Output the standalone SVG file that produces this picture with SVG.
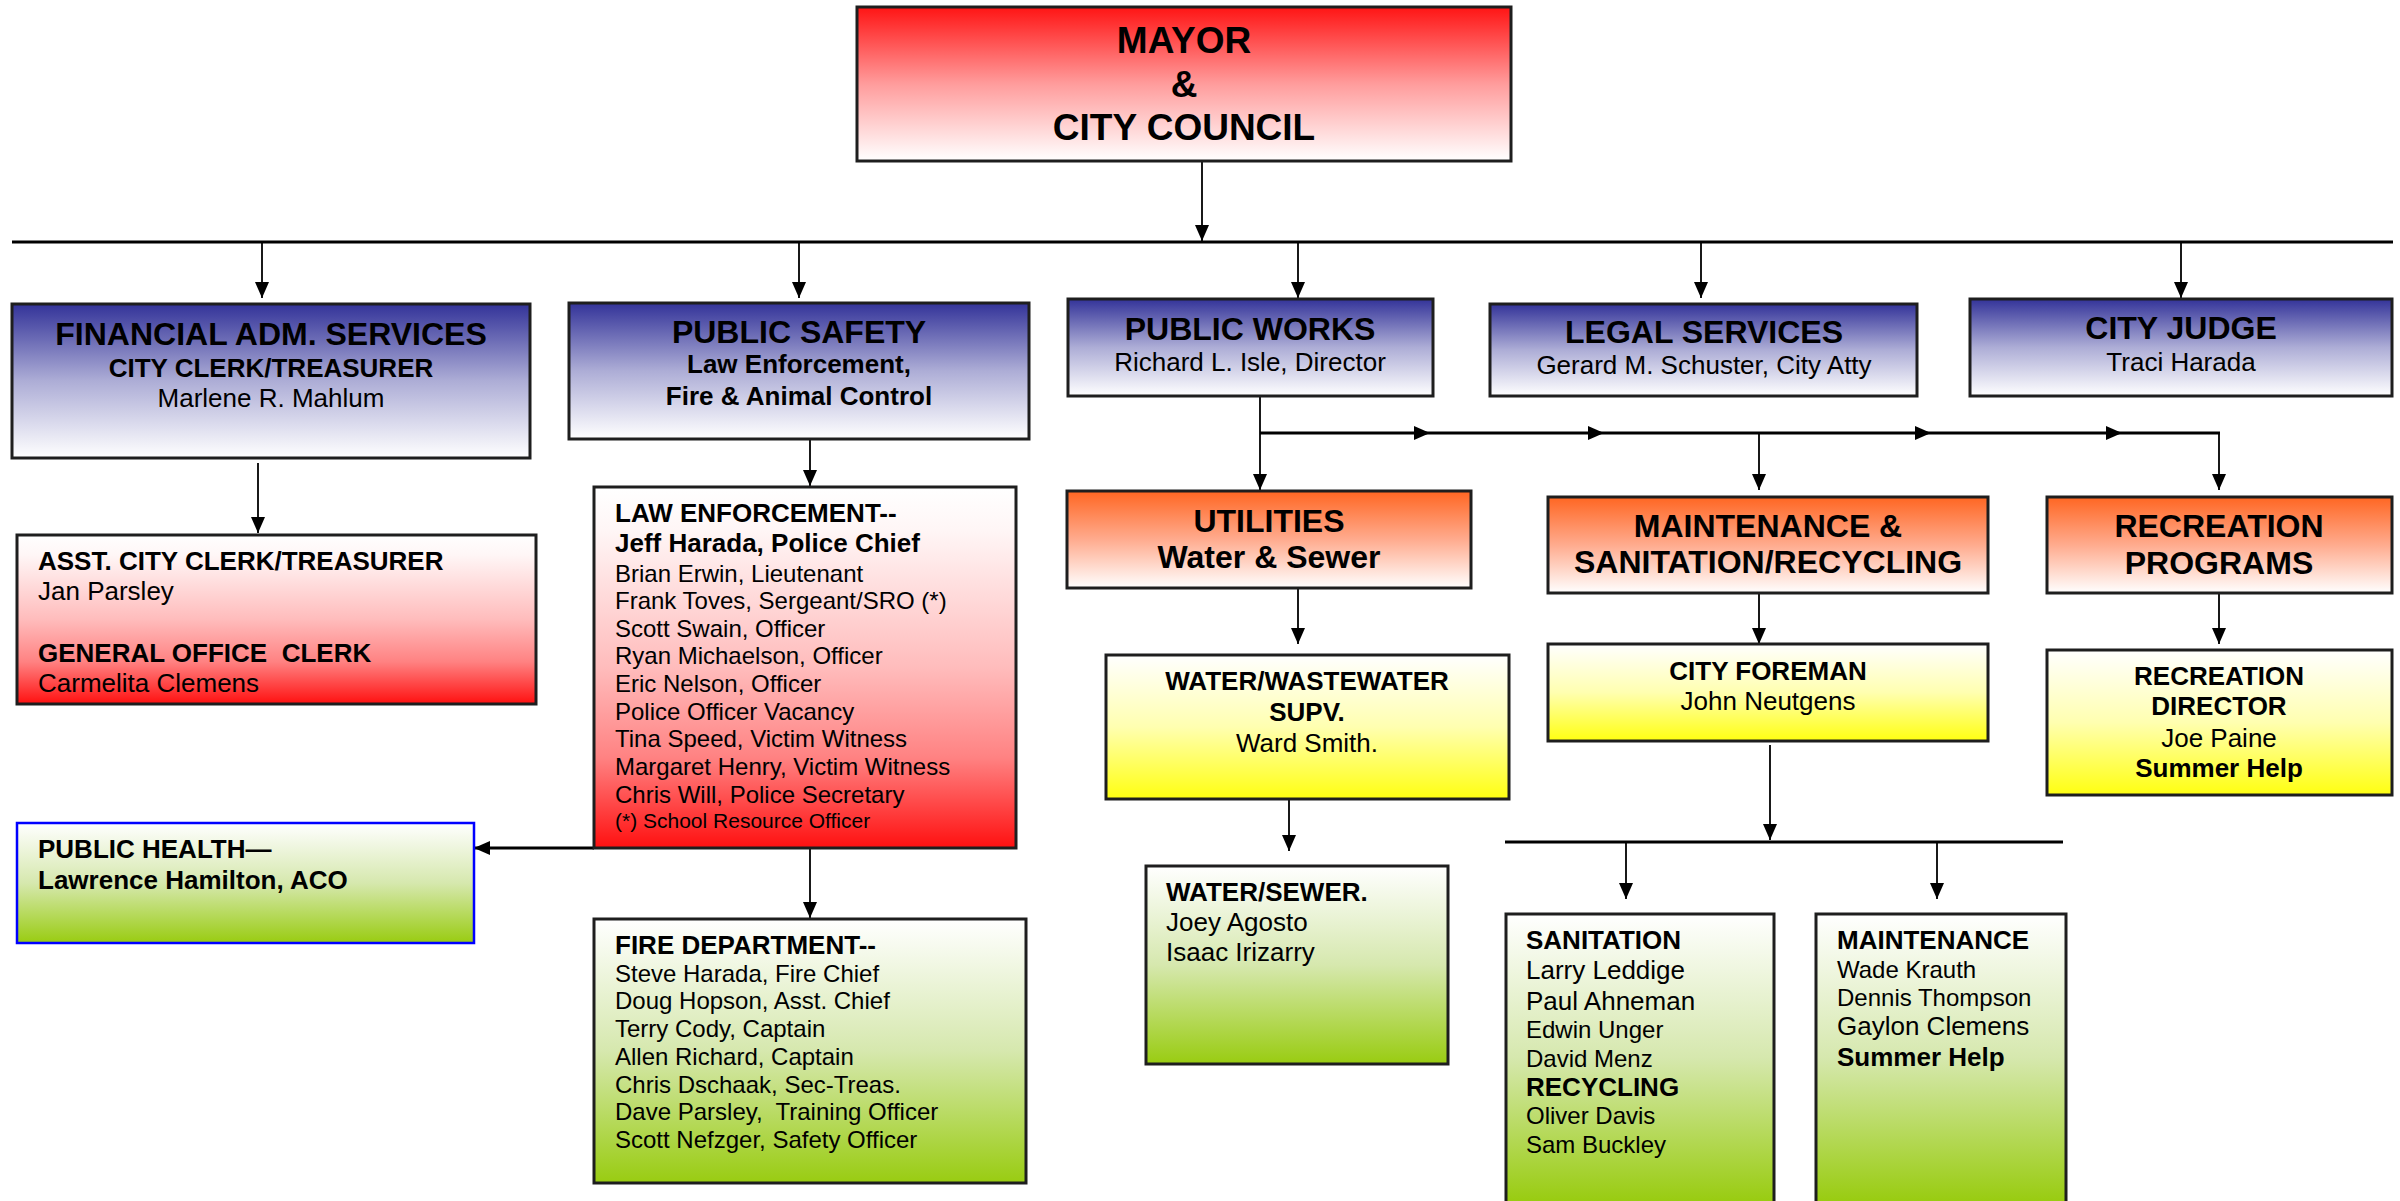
<svg xmlns="http://www.w3.org/2000/svg" width="2400" height="1201" viewBox="0 0 2400 1201">
<style>
.box{stroke:#1e1e1e;stroke-width:3}
.ph{stroke:#0000ff;stroke-width:2.5}
text{font-family:"Liberation Sans",Arial,sans-serif;fill:#000;white-space:pre}
.h37{font-size:37px;font-weight:bold}
.h32{font-size:32px;font-weight:bold}
.b26{font-size:26px;font-weight:bold}
.r26{font-size:26px}
.r24{font-size:24px}
.r21{font-size:21px}
.c{text-anchor:middle}
.ln{stroke:#000;stroke-width:1.8;fill:none}
.bus{stroke:#000;stroke-width:3.2;fill:none}
</style>
<defs>
<linearGradient id="gRed" x1="0" y1="0" x2="0" y2="1"><stop offset="0" stop-color="#ff1414"/><stop offset="0.5" stop-color="#ff9c9c"/><stop offset="0.95" stop-color="#fff6f6"/><stop offset="1" stop-color="#ffffff"/></linearGradient>
<linearGradient id="gBlue" x1="0" y1="0" x2="0" y2="1"><stop offset="0" stop-color="#333399"/><stop offset="0.5" stop-color="#adadd6"/><stop offset="1" stop-color="#ffffff"/></linearGradient>
<linearGradient id="gOrange" x1="0" y1="0" x2="0" y2="1"><stop offset="0" stop-color="#ff6622"/><stop offset="0.5" stop-color="#ffab8e"/><stop offset="1" stop-color="#ffffff"/></linearGradient>
<linearGradient id="gRedUp" x1="0" y1="0" x2="0" y2="1"><stop offset="0" stop-color="#ffffff"/><stop offset="0.12" stop-color="#fff6f6"/><stop offset="0.5" stop-color="#ffbcbc"/><stop offset="0.75" stop-color="#ff8282"/><stop offset="1" stop-color="#ff1010"/></linearGradient>
<linearGradient id="gYellow" x1="0" y1="0" x2="0" y2="1"><stop offset="0" stop-color="#ffffff"/><stop offset="0.5" stop-color="#ffffb0"/><stop offset="1" stop-color="#ffff10"/></linearGradient>
<linearGradient id="gGreen" x1="0" y1="0" x2="0" y2="1"><stop offset="0" stop-color="#ffffff"/><stop offset="0.5" stop-color="#d6e8ae"/><stop offset="1" stop-color="#99cc11"/></linearGradient>
<linearGradient id="gGreenCut" gradientUnits="userSpaceOnUse" x1="0" y1="914" x2="0" y2="1201"><stop offset="0" stop-color="#ffffff"/><stop offset="0.5" stop-color="#d6e8ae"/><stop offset="1" stop-color="#99cc11"/></linearGradient>
<marker id="ah" markerUnits="userSpaceOnUse" markerWidth="16" markerHeight="14" refX="16" refY="7" orient="auto"><path d="M0,0 L16,7 L0,14 z" fill="#000"/></marker>
</defs>

<g id="connectors">
<line class="ln" x1="1202" y1="161" x2="1202" y2="241" marker-end="url(#ah)"/>
<line class="bus" x1="12" y1="242" x2="2393" y2="242"/>
<line class="ln" x1="262" y1="243" x2="262" y2="298" marker-end="url(#ah)"/>
<line class="ln" x1="799" y1="243" x2="799" y2="298" marker-end="url(#ah)"/>
<line class="ln" x1="1298" y1="243" x2="1298" y2="298" marker-end="url(#ah)"/>
<line class="ln" x1="1701" y1="243" x2="1701" y2="298" marker-end="url(#ah)"/>
<line class="ln" x1="2181" y1="243" x2="2181" y2="298" marker-end="url(#ah)"/>
<line class="ln" x1="258" y1="463" x2="258" y2="533" marker-end="url(#ah)"/>
<line class="ln" x1="810" y1="440" x2="810" y2="486" marker-end="url(#ah)"/>
<line class="bus" x1="594" y1="848" x2="474" y2="848" marker-end="url(#ah)"/>
<line class="ln" x1="810" y1="849" x2="810" y2="918" marker-end="url(#ah)"/>
<line class="ln" x1="1260" y1="396" x2="1260" y2="490" marker-end="url(#ah)"/>
<line class="bus" x1="1260" y1="433" x2="1430" y2="433" marker-end="url(#ah)"/>
<line class="bus" x1="1430" y1="433" x2="1604" y2="433" marker-end="url(#ah)"/>
<line class="bus" x1="1604" y1="433" x2="1931" y2="433" marker-end="url(#ah)"/>
<line class="bus" x1="1931" y1="433" x2="2122" y2="433" marker-end="url(#ah)"/>
<line class="bus" x1="2122" y1="433" x2="2220" y2="433"/>
<line class="ln" x1="1759" y1="433" x2="1759" y2="490" marker-end="url(#ah)"/>
<line class="ln" x1="2219" y1="433" x2="2219" y2="490" marker-end="url(#ah)"/>
<line class="ln" x1="1298" y1="588" x2="1298" y2="644" marker-end="url(#ah)"/>
<line class="ln" x1="1759" y1="587" x2="1759" y2="644" marker-end="url(#ah)"/>
<line class="ln" x1="2219" y1="587" x2="2219" y2="644" marker-end="url(#ah)"/>
<line class="ln" x1="1289" y1="793" x2="1289" y2="851" marker-end="url(#ah)"/>
<line class="ln" x1="1770" y1="745" x2="1770" y2="840" marker-end="url(#ah)"/>
<line class="bus" x1="1505" y1="842" x2="2063" y2="842"/>
<line class="ln" x1="1626" y1="843" x2="1626" y2="899" marker-end="url(#ah)"/>
<line class="ln" x1="1937" y1="843" x2="1937" y2="899" marker-end="url(#ah)"/>
</g>

<g id="mayor">
<rect class="box" x="857" y="7" width="654" height="154" fill="url(#gRed)"/>
<text class="h37 c" x="1184" y="53">MAYOR</text>
<text class="h37 c" x="1184" y="97">&amp;</text>
<text class="h37 c" x="1184" y="140">CITY COUNCIL</text>
</g>

<g id="financial">
<rect class="box" x="12" y="304" width="518" height="154" fill="url(#gBlue)"/>
<text class="h32 c" x="271" y="345">FINANCIAL ADM. SERVICES</text>
<text class="b26 c" x="271" y="377">CITY CLERK/TREASURER</text>
<text class="r26 c" x="271" y="407">Marlene R. Mahlum</text>
</g>

<g id="public-safety">
<rect class="box" x="569" y="303" width="460" height="136" fill="url(#gBlue)"/>
<text class="h32 c" x="799" y="343">PUBLIC SAFETY</text>
<text class="b26 c" x="799" y="373">Law Enforcement,</text>
<text class="b26 c" x="799" y="405">Fire &amp; Animal Control</text>
</g>

<g id="public-works">
<rect class="box" x="1068" y="299" width="365" height="97" fill="url(#gBlue)"/>
<text class="h32 c" x="1250" y="340">PUBLIC WORKS</text>
<text class="r26 c" x="1250" y="371">Richard L. Isle, Director</text>
</g>

<g id="legal">
<rect class="box" x="1490" y="304" width="427" height="92" fill="url(#gBlue)"/>
<text class="h32 c" x="1704" y="343">LEGAL SERVICES</text>
<text class="r26 c" x="1704" y="374">Gerard M. Schuster, City Atty</text>
</g>

<g id="city-judge">
<rect class="box" x="1970" y="299" width="422" height="97" fill="url(#gBlue)"/>
<text class="h32 c" x="2181" y="339">CITY JUDGE</text>
<text class="r26 c" x="2181" y="371">Traci Harada</text>
</g>

<g id="asst-clerk">
<rect class="box" x="17" y="535" width="519" height="169" fill="url(#gRedUp)"/>
<text class="b26" x="38" y="570">ASST. CITY CLERK/TREASURER</text>
<text class="r26" x="38" y="600">Jan Parsley</text>
<text class="b26" x="38" y="662">GENERAL OFFICE  CLERK</text>
<text class="r26" x="38" y="692">Carmelita Clemens</text>
</g>

<g id="law-enforcement">
<rect class="box" x="594" y="487" width="422" height="361" fill="url(#gRedUp)"/>
<text class="b26" x="615" y="522">LAW ENFORCEMENT--</text>
<text class="b26" x="615" y="552">Jeff Harada, Police Chief</text>
<text class="r24" x="615" y="582">Brian Erwin, Lieutenant</text>
<text class="r24" x="615" y="609">Frank Toves, Sergeant/SRO (*)</text>
<text class="r24" x="615" y="637">Scott Swain, Officer</text>
<text class="r24" x="615" y="664">Ryan Michaelson, Officer</text>
<text class="r24" x="615" y="692">Eric Nelson, Officer</text>
<text class="r24" x="615" y="720">Police Officer Vacancy</text>
<text class="r24" x="615" y="747">Tina Speed, Victim Witness</text>
<text class="r24" x="615" y="775">Margaret Henry, Victim Witness</text>
<text class="r24" x="615" y="803">Chris Will, Police Secretary</text>
<text class="r21" x="615" y="828">(*) School Resource Officer</text>
</g>

<g id="public-health">
<rect class="ph" x="17" y="823" width="457" height="120" fill="url(#gGreen)"/>
<text class="b26" x="38" y="858">PUBLIC HEALTH—</text>
<text class="b26" x="38" y="889">Lawrence Hamilton, ACO</text>
</g>

<g id="fire-department">
<rect class="box" x="594" y="919" width="432" height="264" fill="url(#gGreen)"/>
<text class="b26" x="615" y="954">FIRE DEPARTMENT--</text>
<text class="r24" x="615" y="982">Steve Harada, Fire Chief</text>
<text class="r24" x="615" y="1009">Doug Hopson, Asst. Chief</text>
<text class="r24" x="615" y="1037">Terry Cody, Captain</text>
<text class="r24" x="615" y="1065">Allen Richard, Captain</text>
<text class="r24" x="615" y="1093">Chris Dschaak, Sec-Treas.</text>
<text class="r24" x="615" y="1120">Dave Parsley,  Training Officer</text>
<text class="r24" x="615" y="1148">Scott Nefzger, Safety Officer</text>
</g>

<g id="utilities">
<rect class="box" x="1067" y="491" width="404" height="97" fill="url(#gOrange)"/>
<text class="h32 c" x="1269" y="532">UTILITIES</text>
<text class="h32 c" x="1269" y="568">Water &amp; Sewer</text>
</g>

<g id="maintenance-sanitation">
<rect class="box" x="1548" y="497" width="440" height="96" fill="url(#gOrange)"/>
<text class="h32 c" x="1768" y="537">MAINTENANCE &amp;</text>
<text class="h32 c" x="1768" y="573">SANITATION/RECYCLING</text>
</g>

<g id="recreation-programs">
<rect class="box" x="2047" y="497" width="345" height="96" fill="url(#gOrange)"/>
<text class="h32 c" x="2219" y="537">RECREATION</text>
<text class="h32 c" x="2219" y="574">PROGRAMS</text>
</g>

<g id="water-wastewater">
<rect class="box" x="1106" y="655" width="403" height="144" fill="url(#gYellow)"/>
<text class="b26 c" x="1307" y="690">WATER/WASTEWATER</text>
<text class="b26 c" x="1307" y="721">SUPV.</text>
<text class="r26 c" x="1307" y="752">Ward Smith.</text>
</g>

<g id="city-foreman">
<rect class="box" x="1548" y="644" width="440" height="97" fill="url(#gYellow)"/>
<text class="b26 c" x="1768" y="680">CITY FOREMAN</text>
<text class="r26 c" x="1768" y="710">John Neutgens</text>
</g>

<g id="recreation-director">
<rect class="box" x="2047" y="650" width="345" height="145" fill="url(#gYellow)"/>
<text class="b26 c" x="2219" y="685">RECREATION</text>
<text class="b26 c" x="2219" y="715">DIRECTOR</text>
<text class="r26 c" x="2219" y="747">Joe Paine</text>
<text class="b26 c" x="2219" y="777">Summer Help</text>
</g>

<g id="water-sewer">
<rect class="box" x="1146" y="866" width="302" height="198" fill="url(#gGreen)"/>
<text class="b26" x="1166" y="901">WATER/SEWER<tspan class="r26">.</tspan></text>
<text class="r26" x="1166" y="931">Joey Agosto</text>
<text class="r26" x="1166" y="961">Isaac Irizarry</text>
</g>

<g id="sanitation">
<rect class="box" x="1506" y="914" width="268" height="300" fill="url(#gGreenCut)"/>
<text class="b26" x="1526" y="949">SANITATION</text>
<text class="r26" x="1526" y="979">Larry Leddige</text>
<text class="r26" x="1526" y="1010">Paul Ahneman</text>
<text class="r24" x="1526" y="1038">Edwin Unger</text>
<text class="r24" x="1526" y="1067">David Menz</text>
<text class="b26" x="1526" y="1096">RECYCLING</text>
<text class="r24" x="1526" y="1124">Oliver Davis</text>
<text class="r24" x="1526" y="1153">Sam Buckley</text>
</g>

<g id="maintenance">
<rect class="box" x="1816" y="914" width="250" height="300" fill="url(#gGreenCut)"/>
<text class="b26" x="1837" y="949">MAINTENANCE</text>
<text class="r24" x="1837" y="978">Wade Krauth</text>
<text class="r24" x="1837" y="1006">Dennis Thompson</text>
<text class="r26" x="1837" y="1035">Gaylon Clemens</text>
<text class="b26" x="1837" y="1066">Summer Help</text>
</g>
</svg>
